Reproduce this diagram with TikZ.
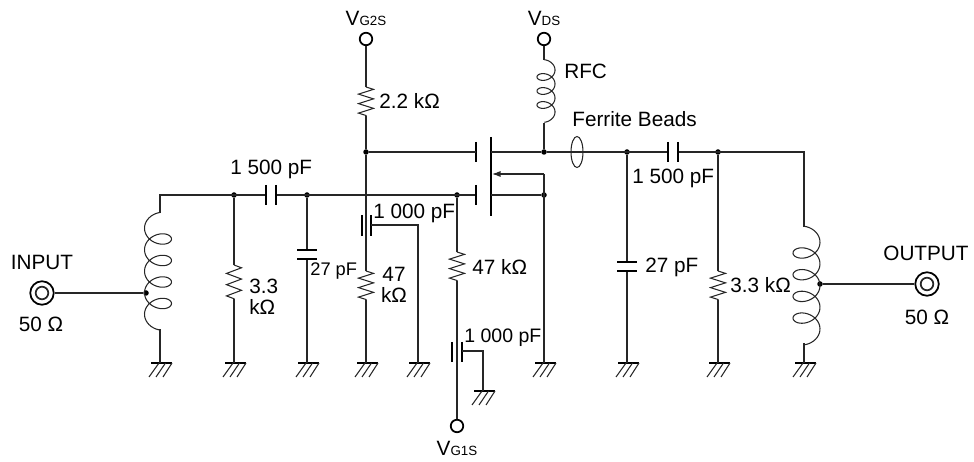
\documentclass[tikz,border=0pt]{standalone}
\usepackage{fontspec}
\setmainfont{Liberation Sans}
\usetikzlibrary{arrows.meta,decorations.pathmorphing}
\newcommand{\coil}[6]{%
  \pgfmathsetmacro\coilend{360*#6+100}
  \draw[wire] plot[domain=-100:\coilend,samples=160,variable=\t]
    ({#1-(#3)*cos(\t)},{#2+(\t-180)/360*#4+#5*sin(\t)});}
\begin{document}
\begin{tikzpicture}
                            [x=0.02cm,y=-0.02cm,
                            wire/.style = {line width=0.6pt,black!85},
                            plate/.style = {line width=1pt,black},
                            res/.style = {wire,decorate,
                                        decoration={zigzag,segment length=#1,amplitude=0.15cm}},
                            res/.default = 0.19cm,
                            dot/.style = {circle,fill=black,inner sep=0pt,
                                        minimum size=0.11cm},
                            term/.style = {circle,draw,line width=1pt,fill=white,
                                        inner sep=0pt,minimum size=0.25cm},
                            port/.style = {circle,draw,line width=1pt,
                                        inner sep=0pt,minimum size=0.47cm},
                            lbl/.style = {inner sep=0pt,anchor=west,
                                        font=\fontsize{11.8}{11.9}\selectfont},
                            lblc/.style = {lbl,anchor=center,align=center},
                            lbls/.style = {lbl,font=\fontsize{10.4}{12}\selectfont},
                            earth/.pic = {
                                \draw[plate] (-9,0) -- (12,0);
                                \draw[wire] (-1,0) -- (-11,14);
                                \draw[wire] (5.5,0) -- (-4,14);
                                \draw[wire] (12,0) -- (3,14);}]
                            \useasboundingbox (0,0) rectangle (974,462);
                            % Terminales
                            \node[term] (VGtwo) at (366,39) {};
                            \node[term] (VD) at (544,39) {};
                            \node[term] (VGone) at (457,426) {};
                            \node[port] (IN) at (42,293) {};
                            \node[port] (OUT) at (927,284) {};
                            \draw[wire,line width=1pt] (IN) circle (6.3);
                            \draw[wire,line width=1pt] (OUT) circle (6.3);
                            % Uniones
                            \node[dot] (Jin) at (146,293) {};
                            \node[dot] (Ja) at (234,195) {};
                            \node[dot] (Jb) at (307,195) {};
                            \node[dot] (Jc) at (457,195) {};
                            \node[dot] (Jd) at (544,195) {};
                            \node[dot] (Je) at (366,152) {};
                            \node[dot] (Jf) at (544,152) {};
                            \node[dot] (Jg) at (627,152) {};
                            \node[dot] (Jh) at (718,152) {};
                            \node[dot] (Jout) at (820,284) {};
                            % Masas
                            \coordinate (Ga) at (160,363);
                            \coordinate (Gb) at (234,363);
                            \coordinate (Gc) at (307,363);
                            \coordinate (Gd) at (366,363);
                            \coordinate (Ge) at (418,363);
                            \coordinate (Gf) at (483,391);
                            \coordinate (Gg) at (544,363);
                            \coordinate (Gh) at (627,363);
                            \coordinate (Gi) at (718,363);
                            \coordinate (Gj) at (804,363);
                            \foreach \g in {Ga,Gb,Gc,Gd,Ge,Gf,Gg,Gh,Gi,Gj}
                                \pic at (\g) {earth};
                            % Bobina de entrada
                            \coordinate (Lia) at (160,213);
                            \coordinate (Lib) at (160,329);
                            \coordinate (Tin) at (160,195);
                            \coil{158}{239}{13.5}{21.5}{10}{4}
                            \draw[wire] (Ga) -- (Lib);
                            \draw[wire] (IN) -- (Jin);
                            % Linea de entrada
                            \coordinate (Ca) at (266,195);
                            \coordinate (Cb) at (276,195);
                            \coordinate (GateB) at (476,195);
                            \draw[wire] (Lia) -- (Tin) -- (Ca);
                            \draw[wire] (Cb) -- (GateB);
                            \draw[plate] (266,185) -- (266,205);
                            \draw[plate] (276,185) -- (276,205);
                            % 3.3 k entrada
                            \coordinate (Raa) at (234,265);
                            \coordinate (Rab) at (234,299);
                            \draw[wire] (Ja) -- (Raa);
                            \draw[res=0.225cm] (Raa) -- (Rab);
                            \draw[wire] (Rab) -- (Gb);
                            % 27 pF entrada
                            \coordinate (Cca) at (307,250);
                            \coordinate (Ccb) at (307,259);
                            \draw[wire] (Jb) -- (Cca);
                            \draw[wire] (Ccb) -- (Gc);
                            \draw[plate] (297,250) -- (317,250);
                            \draw[plate] (297,259) -- (317,259);
                            % Rama VG2
                            \coordinate (Rba) at (366,87);
                            \coordinate (Rbb) at (366,116);
                            \coordinate (Rca) at (366,271);
                            \coordinate (Rcb) at (366,300);
                            \draw[wire] (VGtwo) -- (Rba);
                            \draw[res] (Rba) -- (Rbb);
                            \draw[wire] (Rbb) -- (Je) -- (Rca);
                            \draw[res] (Rca) -- (Rcb);
                            \draw[wire] (Rcb) -- (Gd);
                            \draw[plate] (362,215) -- (362,236);
                            \draw[plate] (371,215) -- (371,236);
                            \coordinate (Cda) at (371,225);
                            \draw[wire] (Cda) -- (418,225) -- (Ge);
                            % Rama VG1
                            \coordinate (Rda) at (457,252);
                            \coordinate (Rdb) at (457,281);
                            \draw[wire] (Jc) -- (Rda);
                            \draw[res] (Rda) -- (Rdb);
                            \draw[wire] (Rdb) -- (VGone);
                            \draw[plate] (452,342) -- (452,362);
                            \draw[plate] (462,342) -- (462,362);
                            \coordinate (Cea) at (462,351);
                            \draw[wire] (Cea) -- (483,351) -- (Gf);
                            % Transistor
                            \coordinate (GateA) at (476,152);
                            \coordinate (Drain) at (491,152);
                            \coordinate (Source) at (491,195);
                            \coordinate (Sub) at (492,174);
                            \coordinate (SubR) at (544,174);
                            \draw[plate,line width=1.2pt] (491,137) -- (491,216);
                            \draw[plate] (476,142) -- (476,162);
                            \draw[plate] (476,185) -- (476,205);
                            \draw[wire] (Je) -- (GateA);
                            \draw[wire] (Drain) -- (Jf);
                            \draw[wire] (Source) -- (Jd);
                            \draw[wire,-{Latex[length=0.17cm,width=0.12cm]}] (SubR) -- (Sub);
                            \draw[wire] (SubR) -- (Gg);
                            % RFC
                            \coordinate (Lra) at (544,60);
                            \coordinate (Lrb) at (544,123);
                            \coil{546}{77}{-9}{14}{6.5}{3}
                            \draw[wire] (VD) -- (Lra);
                            \draw[wire] (Lrb) -- (Jf);
                            % Salida
                            \coordinate (Coa) at (668,152);
                            \coordinate (Cob) at (678,152);
                            \coordinate (Tout) at (804,152);
                            \coordinate (Loa) at (804,227);
                            \coordinate (Lob) at (804,343);
                            \coordinate (FB) at (577,152);
                            \draw[wire] (Jf) -- (Coa);
                            \draw[wire] (Cob) -- (Tout) -- (Loa);
                            \draw[plate] (668,142) -- (668,162);
                            \draw[plate] (678,142) -- (678,162);
                            \draw[wire] (FB) ellipse (6 and 15.5);
                            \coil{806.5}{253}{-13.5}{21.7}{10}{4}
                            \draw[wire] (Lob) -- (Gj);
                            \draw[wire] (Jout) -- (OUT);
                            % 27 pF salida
                            \coordinate (Cfa) at (627,262);
                            \coordinate (Cfb) at (627,271);
                            \draw[wire] (Jg) -- (Cfa);
                            \draw[wire] (Cfb) -- (Gh);
                            \draw[plate] (617,262) -- (637,262);
                            \draw[plate] (617,271) -- (637,271);
                            % 3.3 k salida
                            \coordinate (Rea) at (718,271);
                            \coordinate (Reb) at (718,300);
                            \draw[wire] (Jh) -- (Rea);
                            \draw[res] (Rea) -- (Reb);
                            \draw[wire] (Reb) -- (Gi);
                            % Etiquetas
                            \node[lblc] (tInput) at (42,262) {INPUT};
                            \node[lblc] (tInOhm) at (41,324) {50 Ω};
                            \node[lbl,align=left] (tRa) at (249,297) {3.3\\kΩ};
                            \node[lbls] (tCc) at (310,271) {27 pF};
                            \node[lbl] (tCa) at (230,169) {1 500 pF};
                            \node[lbl] (tRb) at (379,101) {2.2 kΩ};
                            \node[lbl] (tRFC) at (564,71) {RFC};
                            \node[lbl] (tFB) at (572,119) {Ferrite Beads};
                            \node[lbl] (tCd) at (373,213) {1 000 pF};
                            \node[lblc] (tRc) at (394,285) {47\\kΩ};
                            \node[lbl] (tRd) at (472,267) {47 kΩ};
                            \node[lbl,font=\fontsize{11.1}{12}\selectfont] (tCe) at (464,338) {1 000 pF};
                            \node[lbl] (tCf) at (645,267) {27 pF};
                            \node[lbl] (tCo) at (632,178) {1 500 pF};
                            \node[lbl] (tRe) at (730,285) {3.3 kΩ};
                            \node[lblc] (tOutput) at (926,253) {OUTPUT};
                            \node[lblc] (tOutOhm) at (927,317) {50 Ω};
                            \node[lblc] (tVGtwo) at (366,18) {V{\fontsize{7.6}{9}\selectfont G2S}};
                            \node[lblc] (tVD) at (544,18) {V{\fontsize{7.6}{9}\selectfont DS}};
                            \node[lblc] (tVGone) at (457,448) {V{\fontsize{7.6}{9}\selectfont G1S}};
                        \end{tikzpicture}
\end{document}
